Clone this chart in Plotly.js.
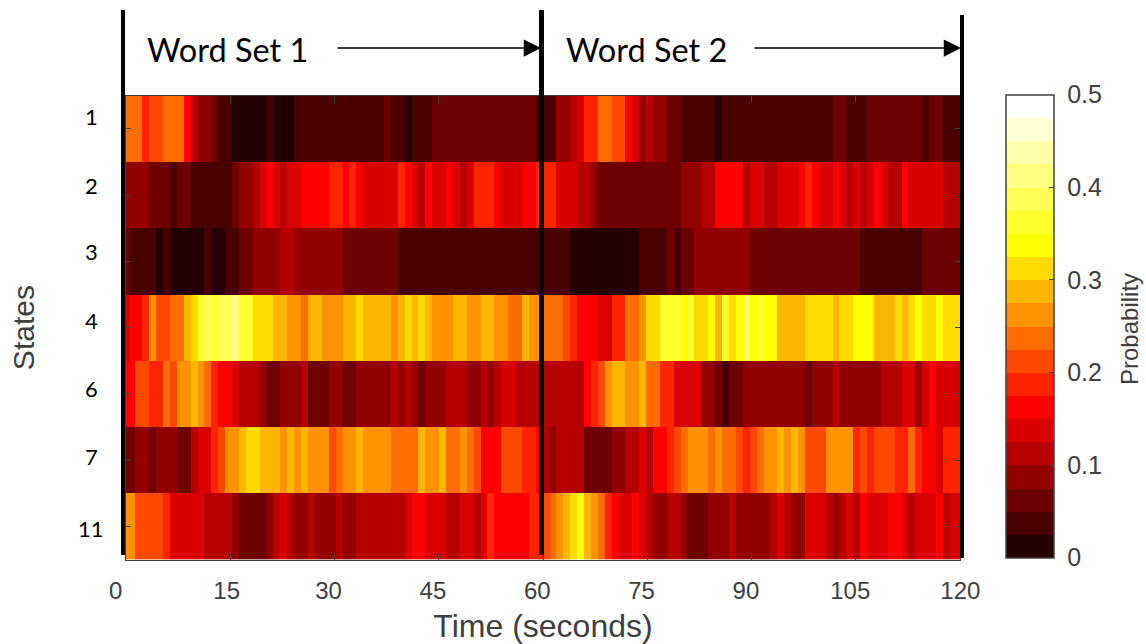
<!DOCTYPE html>
<html>
<head>
<meta charset="utf-8">
<script src="https://cdn.plot.ly/plotly-3.0.1.min.js"></script>
<style>html,body{margin:0;padding:0;background:#fff}#chart{width:1146px;height:644px}</style>
</head>
<body>
<div id="chart"></div>
<script>
const stateLabels = ['1','2','3','4','6','7','11'];
const timeTicks = [0,15,30,45,60,75,90,105,120];
const timeTickText = ['0\u00a0\u00a0\u00a0','15\u00a0','30\u00a0\u2009','45\u00a0\u2009','60\u00a0\u2009','75\u00a0\u2009','90\u00a0\u2009','105\u00a0\u2009','120'];
const probTicks = [0,0.1,0.2,0.3,0.4,0.5];
const probTickText = ['\u00a00','\u00a00.1','\u00a00.2','\u00a00.3','\u00a00.4','\u00a00.5'];
const hotColors = ['#240000','#490000','#6d0000','#920000','#b60000','#db0000','#ff0000','#ff2400','#ff4900','#ff6d00','#ff9200','#ffb600','#ffdb00','#ffff00','#ffff2b','#ffff55','#ffff80','#ffffaa','#ffffd5','#ffffff'];

const state1 = [.24,.24,.24,.19,.21,.21,.24,.24,.24,.16,
.11,.09,.09,.06,.04,.04,.01,.01,.01,.01,
.01,.04,.01,.01,.01,.04,.04,.04,.04,.04,
.04,.04,.04,.04,.04,.04,.04,.04,.06,.04,
.04,.01,.04,.04,.04,.06,.06,.06,.06,.06,
.06,.06,.06,.06,.06,.06,.06,.06,.06,.06,
.04,.04,.04,.09,.09,.11,.14,.19,.19,.24,
.24,.21,.21,.16,.14,.09,.11,.09,.09,.06,
.06,.04,.04,.04,.04,.04,.01,.04,.04,.04,
.04,.04,.04,.04,.04,.04,.04,.04,.04,.04,
.04,.04,.04,.06,.06,.04,.04,.04,.06,.06,
.06,.06,.06,.06,.06,.06,.04,.06,.06,.04,
.04,.04];
const state2 = [.09,.09,.09,.09,.06,.06,.06,.04,.06,.06,
.04,.04,.04,.04,.04,.04,.06,.09,.09,.11,
.14,.16,.14,.11,.14,.14,.16,.16,.16,.16,
.19,.19,.16,.19,.16,.14,.14,.14,.14,.14,
.19,.16,.14,.11,.16,.14,.14,.16,.14,.11,
.14,.19,.19,.19,.16,.14,.14,.14,.16,.16,
.19,.19,.19,.14,.14,.14,.11,.11,.09,.06,
.06,.06,.06,.06,.06,.06,.06,.06,.06,.06,
.06,.09,.09,.09,.11,.11,.16,.16,.16,.16,
.11,.14,.14,.11,.11,.14,.14,.14,.16,.19,
.16,.14,.14,.16,.14,.11,.14,.11,.14,.16,
.14,.11,.11,.16,.14,.14,.14,.14,.14,.11,
.11,.11];
const state3 = [.06,.04,.04,.04,.04,.01,.04,.01,.01,.01,
.01,.01,.04,.01,.01,.04,.04,.06,.06,.09,
.09,.09,.09,.11,.11,.09,.09,.09,.09,.09,
.09,.09,.06,.06,.06,.06,.06,.06,.06,.06,
.04,.04,.04,.04,.04,.04,.04,.04,.04,.04,
.04,.04,.04,.04,.04,.04,.04,.04,.04,.04,
.04,.04,.04,.04,.04,.01,.01,.01,.01,.01,
.01,.01,.01,.01,.01,.04,.04,.04,.04,.06,
.04,.06,.06,.09,.09,.09,.09,.09,.09,.09,
.09,.06,.06,.06,.06,.06,.06,.06,.06,.06,
.06,.06,.06,.06,.06,.06,.06,.04,.04,.04,
.04,.04,.04,.04,.04,.04,.06,.06,.06,.06,
.06,.06];
const state4 = [.14,.16,.16,.19,.26,.21,.21,.24,.24,.29,
.31,.36,.39,.36,.39,.39,.41,.36,.36,.31,
.31,.31,.29,.29,.26,.26,.24,.29,.29,.26,
.26,.26,.29,.29,.31,.29,.29,.29,.29,.26,
.29,.31,.29,.31,.29,.26,.26,.26,.29,.29,
.26,.26,.29,.29,.26,.26,.24,.24,.29,.26,
.26,.24,.24,.24,.21,.19,.16,.16,.16,.14,
.14,.19,.19,.24,.24,.26,.31,.31,.36,.36,
.36,.34,.36,.31,.31,.34,.29,.36,.31,.34,
.39,.34,.36,.34,.34,.29,.29,.29,.29,.31,
.31,.31,.31,.29,.31,.31,.34,.34,.34,.29,
.29,.29,.31,.29,.31,.34,.31,.31,.34,.31,
.31,.31];
const state6 = [.16,.16,.21,.21,.19,.19,.24,.21,.26,.26,
.29,.26,.24,.19,.16,.16,.14,.11,.11,.11,
.09,.06,.06,.09,.09,.09,.11,.06,.06,.06,
.09,.09,.06,.06,.09,.09,.09,.09,.09,.11,
.09,.11,.09,.06,.09,.09,.09,.11,.11,.11,
.09,.09,.11,.09,.11,.14,.14,.11,.11,.11,
.11,.11,.11,.11,.11,.11,.11,.16,.19,.21,
.26,.29,.29,.26,.26,.29,.24,.24,.19,.19,
.14,.14,.14,.14,.09,.09,.06,.04,.06,.06,
.09,.09,.09,.09,.09,.09,.09,.09,.09,.06,
.09,.09,.09,.11,.09,.09,.09,.09,.09,.09,
.11,.11,.11,.14,.14,.09,.14,.16,.14,.14,
.14,.14];
const state7 = [.06,.06,.09,.09,.06,.09,.09,.09,.06,.06,
.11,.14,.14,.19,.21,.26,.26,.29,.31,.31,
.29,.29,.29,.26,.29,.26,.29,.26,.26,.26,
.21,.24,.26,.26,.29,.26,.26,.26,.26,.24,
.24,.24,.24,.29,.26,.26,.29,.24,.24,.26,
.24,.21,.16,.16,.16,.21,.21,.21,.19,.19,
.16,.11,.09,.11,.11,.11,.11,.06,.06,.06,
.06,.09,.09,.11,.11,.14,.11,.16,.16,.19,
.21,.24,.26,.26,.26,.24,.26,.24,.24,.21,
.19,.21,.24,.26,.26,.29,.26,.29,.26,.21,
.21,.21,.26,.26,.26,.26,.19,.21,.19,.21,
.21,.21,.19,.19,.24,.19,.16,.16,.14,.19,
.19,.19];
const state11 = [.26,.26,.21,.21,.21,.21,.19,.14,.14,.14,
.14,.14,.11,.11,.11,.11,.09,.06,.06,.06,
.06,.09,.11,.14,.11,.09,.09,.11,.09,.09,
.09,.11,.09,.09,.11,.11,.11,.11,.11,.11,
.11,.14,.16,.16,.14,.14,.14,.11,.11,.14,
.14,.11,.14,.19,.16,.16,.16,.16,.16,.19,
.19,.21,.24,.26,.29,.31,.34,.29,.26,.24,
.19,.16,.14,.14,.16,.14,.11,.09,.09,.11,
.11,.09,.06,.06,.06,.09,.09,.09,.11,.09,
.09,.09,.09,.09,.11,.14,.11,.09,.09,.14,
.14,.14,.11,.09,.11,.14,.11,.16,.14,.14,
.14,.16,.16,.14,.11,.14,.14,.14,.16,.11,
.14,.14];

const W = 1146, H = 644;
const px = v => v / W, py = v => 1 - v / H;
const zRows = [state1, state2, state3, state4, state6, state7, state11];

const colorscale = [];
hotColors.forEach((c, i) => {
  colorscale.push([i / hotColors.length, c]);
  colorscale.push([(i + 1) / hotColors.length, c]);
});

const grey = '#404040';
const sans = '"Liberation Sans", Arial, sans-serif';

const trace = {
  type: 'heatmap',
  z: zRows,
  x0: -0.084,
  dx: 0.9928,
  y: stateLabels,
  zmin: 0,
  zmax: 0.5,
  zsmooth: false,
  colorscale: colorscale,
  colorbar: {
    x: px(1006), xanchor: 'left', xref: 'paper',
    y: py(557.7), yanchor: 'bottom', yref: 'paper',
    len: 462.7, lenmode: 'pixels',
    thickness: 48, thicknessmode: 'pixels',
    xpad: 0, ypad: 0,
    outlinewidth: 1.5, outlinecolor: grey,
    ticks: 'inside', ticklen: 5, tickwidth: 1, tickcolor: grey,
    tickmode: 'array', tickvals: probTicks, ticktext: probTickText,
    tickfont: {family: sans, size: 25, color: grey}
  }
};

const vLine = (x, y0, y1, w) => ({
  type: 'line', xref: 'paper', yref: 'paper',
  x0: px(x), x1: px(x), y0: py(y0), y1: py(y1),
  line: {color: '#000', width: w}, layer: 'above'
});

const stateLabelY = [117, 185, 252, 320, 388, 456, 528];
const stateAnnotations = stateLabels.map((t, i) => ({
  xref: 'paper', yref: 'paper', x: px(91), y: py(stateLabelY[i]),
  xanchor: 'center', yanchor: 'middle', showarrow: false,
  text: t, font: {family: 'Lato, sans-serif', size: 22, color: '#000'}
}));

const layout = {
  width: W, height: H,
  margin: {l: 0, r: 0, t: 0, b: 0},
  paper_bgcolor: '#fff', plot_bgcolor: '#fff',
  showlegend: false,
  xaxis: {
    domain: [px(125.7), px(960.3)],
    anchor: 'y',
    range: [0, 120],
    tickmode: 'array', tickvals: timeTicks, ticktext: timeTickText,
    ticks: 'inside', ticklen: 7, tickwidth: 1, tickcolor: grey,
    ticklabelstandoff: 10,
    tickfont: {family: sans, size: 24, color: grey},
    showline: true, linecolor: grey, linewidth: 1, mirror: 'ticks',
    showgrid: false, zeroline: false,
    title: {text: 'Time (seconds)', standoff: 12, font: {family: sans, size: 32, color: grey}}
  },
  yaxis: {
    domain: [py(559.5), py(95.7)],
    anchor: 'x',
    type: 'category',
    range: [6.5, -0.5],
    tickmode: 'array', tickvals: stateLabels, ticktext: stateLabels,
    showticklabels: false,
    ticks: 'inside', ticklen: 5, tickwidth: 1, tickcolor: grey,
    showline: true, linecolor: grey, linewidth: 1, mirror: 'ticks',
    showgrid: false, zeroline: false,
    title: {text: 'States', standoff: 81, font: {family: sans, size: 30, color: grey}}
  },
  shapes: [vLine(123, 10, 555, 4), vLine(541.5, 10, 555, 5), vLine(962, 15, 558, 4)],
  annotations: [
    {xref: 'paper', yref: 'paper', x: px(145), y: py(49), xanchor: 'left', yanchor: 'middle', showarrow: false,
     text: 'Word Set 1', font: {family: 'Lato, sans-serif', size: 32.5, color: '#000'}},
    {xref: 'paper', yref: 'paper', x: px(564), y: py(49), xanchor: 'left', yanchor: 'middle', showarrow: false,
     text: 'Word Set 2', font: {family: 'Lato, sans-serif', size: 32.5, color: '#000'}},
    {xref: 'paper', yref: 'paper', x: px(541), y: py(48), text: '', showarrow: true, ax: -205, ay: 0,
     arrowhead: 2, arrowsize: 2.3, arrowwidth: 1.5, arrowcolor: '#000'},
    {xref: 'paper', yref: 'paper', x: px(961), y: py(48), text: '', showarrow: true, ax: -208, ay: 0,
     arrowhead: 2, arrowsize: 2.3, arrowwidth: 1.5, arrowcolor: '#000'},
    {xref: 'paper', yref: 'paper', x: px(1129), y: py(329), xanchor: 'center', yanchor: 'middle', textangle: -90, showarrow: false,
     text: 'Probability', font: {family: sans, size: 24, color: grey}},
    ...stateAnnotations
  ]
};

Plotly.newPlot('chart', [trace], layout, {displayModeBar: false, responsive: false});
</script>
</body>
</html>
